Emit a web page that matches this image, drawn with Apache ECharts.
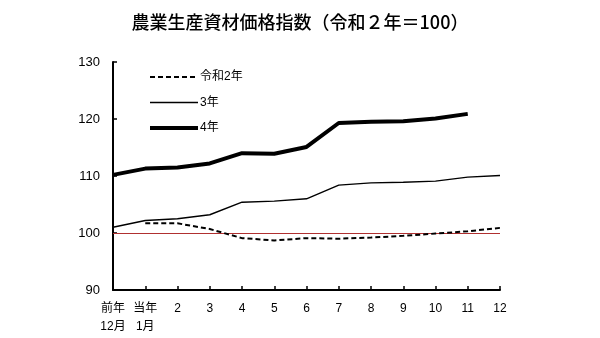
<!DOCTYPE html>
<html>
<head>
<meta charset="utf-8">
<script src="https://cdn.jsdelivr.net/npm/echarts@6/dist/echarts.min.js"></script>
<style>
html,body{margin:0;padding:0;background:#fff;}
#c{width:600px;height:338px;}
</style>
</head>
<body>
<div id="c"></div>
<script>
var categories = ['前年\n12月', '当年\n1月', '2', '3', '4', '5', '6', '7', '8', '9', '10', '11', '12'];
var seriesNames = ['令和2年', '3年', '4年'];
var r2 = [null, 101.7, 101.7, 100.7, 99.1, 98.7, 99.1, 99.0, 99.2, 99.5, 99.9, 100.3, 100.9];
var r3 = [101.0, 102.2, 102.5, 103.2, 105.4, 105.6, 106.0, 108.4, 108.8, 108.9, 109.1, 109.8, 110.1];
var r4 = [110.2, 111.3, 111.5, 112.2, 114.0, 113.9, 115.1, 119.3, 119.5, 119.6, 120.1, 120.9, null];
var baseValue = 100;

var font = '"Liberation Sans", "Noto Sans CJK JP", sans-serif';
var styles = [
  {color: '#000', width: 2, type: [5, 3]},
  {color: '#000', width: 1.4, type: 'solid'},
  {color: '#000', width: 4, type: 'solid'}
];
var chart = echarts.init(document.getElementById('c'));
chart.setOption({
  animation: false,
  backgroundColor: '#fff',
  title: {
    text: '農業生産資材価格指数（令和２年＝100）',
    left: 'center',
    top: 8,
    textStyle: {fontFamily: '"Noto Sans CJK JP", sans-serif', fontSize: 18, fontWeight: 500, color: '#000'}
  },
  legend: {
    orient: 'vertical',
    left: 143,
    top: 66,
    itemWidth: 48,
    itemHeight: 14,
    itemGap: 13.5,
    itemStyle: {opacity: 0},
    textStyle: {fontFamily: font, fontSize: 12, color: '#000', padding: [0,0,0,-3]},
    data: seriesNames.map(function (n, i) { return {name: n, lineStyle: styles[i]}; })
  },
  grid: {left: 113, right: 100, top: 62, bottom: 48, containLabel: false},
  xAxis: {
    type: 'category',
    data: categories,
    boundaryGap: false,
    axisLine: {lineStyle: {color: '#000', width: 2}},
    axisTick: {inside: true, length: 4, lineStyle: {color: '#000', width: 1.5}},
    axisLabel: {fontFamily: font, fontSize: 12, color: '#000', margin: 10, lineHeight: 18, interval: 0}
  },
  yAxis: {
    type: 'value',
    min: 90, max: 130, interval: 10,
    splitLine: {show: false},
    axisLine: {show: true, lineStyle: {color: '#000', width: 2}},
    axisTick: {show: true, inside: true, length: 4, lineStyle: {color: '#000', width: 1.5}},
    axisLabel: {fontFamily: font, fontSize: 13, color: '#000', margin: 13}
  },
  series: [
    {
      name: seriesNames[0], type: 'line', data: r2, symbol: 'none',
      lineStyle: styles[0],
      itemStyle: {color: '#000'},
      z: 3,
      markLine: {
        silent: true, symbol: 'none', label: {show: false},
        lineStyle: {color: '#b03030', width: 1.2, type: 'solid'},
        data: [{yAxis: baseValue}],
        z: 1
      }
    },
    {
      name: seriesNames[1], type: 'line', data: r3, symbol: 'none',
      lineStyle: styles[1],
      itemStyle: {color: '#000'}
    },
    {
      name: seriesNames[2], type: 'line', data: r4, symbol: 'none',
      lineStyle: styles[2],
      itemStyle: {color: '#000'}
    }
  ]
});
</script>
</body>
</html>
